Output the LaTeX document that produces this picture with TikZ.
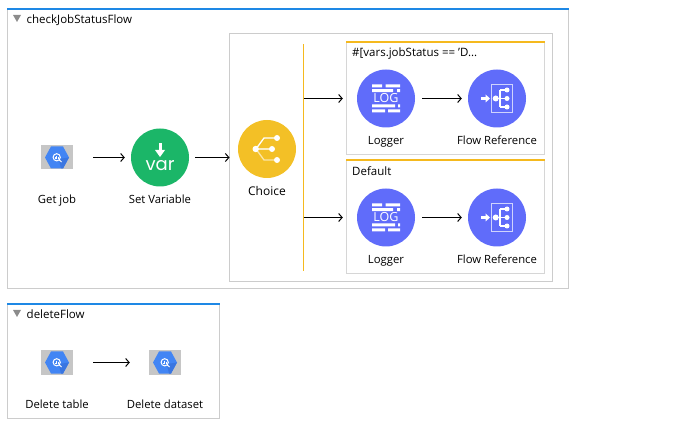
\documentclass[tikz,border=0pt]{standalone}
\usepackage{fontspec}
\setmainfont{Open Sans}
\newfontfamily\varfont{Poppins}
\usetikzlibrary{arrows.meta,positioning,calc}
\definecolor{muleblue}{RGB}{30,136,229}
\definecolor{muleframe}{RGB}{204,204,204}
\definecolor{mulegold}{RGB}{245,185,30}
\definecolor{choicegold}{RGB}{243,192,38}
\definecolor{vargreen}{RGB}{27,182,104}
\definecolor{logviolet}{RGB}{96,108,250}
\definecolor{bqblue}{RGB}{66,133,244}
\definecolor{bqdark}{RGB}{58,118,225}
\definecolor{bqgrey}{RGB}{198,198,198}
\tikzset{
  pics/bq/.style={code={
    \fill[bqgrey] (-16,-12) rectangle (16,12);
    \fill[bqblue] (-12,0) -- (-6,-11) -- (6,-11) -- (12,0) -- (6,11) -- (-6,11) -- cycle;
    \fill[bqdark] (2,3) -- (5,1) -- (12,0) -- (6,11) -- (4,11) -- cycle;
    \draw[white, line width=1pt] (-.3,-.2) circle (3.6);
    \draw[white, line width=1pt] (2.3,2.4) -- (4.6,4.6);
    \fill[white] (-1.7,0) rectangle (-1,1.6);
    \fill[white] (-.6,-1.8) rectangle (.2,1.6);
    \fill[white] (.6,-.6) rectangle (1.3,1.6);
  }},
  pics/varicon/.style={code={
    \fill[white] (-1.5,-14) rectangle (1.5,-6);
    \fill[white] (-5,-7) -- (5,-7) -- (0,0) -- cycle;
  }},
  pics/choiceicon/.style={code={
    \draw[white!70!choicegold, line width=1.3pt] (-11,0) -- (5,0);
    \draw[white!60!choicegold, line width=1.3pt] (-11,0) -- (-3,11) -- (10,11);
    \draw[white, line width=1.3pt] (-11,0) -- (-3,-11) -- (10,-11);
    \fill[white] (-11.3,0) circle (3.2) (5,0) circle (3) (10,-11) circle (3) (10,11) circle (3);
  }},
  pics/logicon/.style={code={
    \fill[white] (-14,-14) rectangle (-4,-11) (-.3,-14) rectangle (14,-11);
    \fill[white] (-14,-9.3) rectangle (7,-6.3) (11,-9.3) rectangle (14,-6.3);
    \fill[white] (-14,6) rectangle (9,9) (12,6) rectangle (14,9);
    \fill[white] (-14,11) rectangle (-1,14) (2,11) rectangle (14,14);
  }},
  pics/reficon/.style={code={
    \draw[white!70!logviolet, line width=.8pt] (-5.7,-14) rectangle (15,14);
    \fill[white] (-16,-1.8) rectangle (-11,1.8);
    \fill[white] (-11.5,-4) -- (-7,0) -- (-11.5,4) -- cycle;
    \draw[white, line width=1.1pt] (-1.3,0) -- (10,0) (3,-8.5) -- (3,8.5) (3,-8.5) -- (10,-8.5) (3,8.5) -- (10,8.5);
    \fill[white] (-1.3,0) circle (3) (10,0) circle (2.5) (10,-8.5) circle (2.5) (10,8.5) circle (2.5);
  }}
}
\begin{document}
\begin{tikzpicture}[x=1pt, y=-1pt, font=\fontsize{11.3}{13}\selectfont,
  flowbox/.style={draw=muleframe, line width=1pt},
  flowtop/.style={draw=muleblue, line width=2pt},
  routebox/.style={draw=muleframe!80!white, line width=1pt},
  routetop/.style={draw=mulegold, line width=2pt},
  act/.style={circle, minimum size=58pt, inner sep=0pt},
  bqnode/.style={minimum width=32pt, minimum height=24pt, inner sep=0pt},
  lbl/.style={inner sep=0pt, text=black, text height=12pt, text depth=3pt},
  head/.style={lbl, anchor=west, font=\fontsize{11.5}{13}\selectfont},
  logtxt/.style={lbl, text=white, text height=9pt, text depth=0pt, font=\fontsize{12.5}{14}\selectfont},
  flowarrow/.style={-{Straight Barb[length=3.5pt,width=8pt]}, line width=1pt, black}]
\useasboundingbox (0,0) rectangle (685,427);
% outer flows
\draw[flowbox] (7.5,9) rectangle (568.5,288.5);
\draw[flowtop] (7,9) -- (569,9);
\fill[gray!90] (13,15) -- (21,15) -- (17,22) -- cycle;
\node[head] (title1) at (26.5,19) {checkJobStatusFlow};
\draw[flowbox] (7.5,304) rectangle (219.5,418.5);
\draw[flowtop] (7,304) -- (220,304);
\fill[gray!90] (13,310) -- (21,310) -- (17,317) -- cycle;
\node[head] (title2) at (26.5,314) {deleteFlow};
% choice scope and routes
\draw[flowbox] (229.5,33.5) rectangle (552.5,281.5);
\draw[mulegold, line width=1pt] (303.5,44) -- (303.5,271);
\draw[routebox] (346.5,42) rectangle (544.5,154.5);
\draw[routetop] (346,42) -- (545,42);
\node[head] (route1) at (352,52) {\#[vars.jobStatus == 'D...};
\draw[routebox] (346.5,160.5) rectangle (544.5,273.5);
\draw[routetop] (346,160.5) -- (545,160.5);
\node[head] (route2) at (352,171) {Default};
% first flow
\node[bqnode] (getjob) at (57,157.5) {};
\pic at (getjob) {bq};
\node[act, fill=vargreen] (setvar) at (160,157.5) {};
\pic at (160,157) {varicon};
\node[lbl, font=\varfont\fontsize{18}{18}\selectfont, text=white] (vartxt) at (160,166.5) {var};
\node[act, fill=choicegold] (choice) at (267,149) {};
\pic at (choice) {choiceicon};
\node[lbl] at (57,199) {Get job};
\node[lbl] at (160,199) {Set Variable};
\node[lbl, font=\fontsize{12}{13}\selectfont] at (267,191) {Choice};
\coordinate (choicein) at (229.5,157.5);
\coordinate (bar1) at (303.5,98.5);
\coordinate (bar2) at (303.5,217.5);
% routes
\node[act, fill=logviolet] (log1) at (386,98.5) {};
\pic at (log1) {logicon};
\node[logtxt] (logtxt1) at (386,98.5) {LOG};
\node[act, fill=logviolet] (ref1) at (497,98.5) {};
\pic at (ref1) {reficon};
\node[lbl] at (386,140) {Logger};
\node[lbl] at (497,140) {Flow Reference};
\node[act, fill=logviolet] (log2) at (386,217.5) {};
\pic at (log2) {logicon};
\node[logtxt] (logtxt2) at (386,217.5) {LOG};
\node[act, fill=logviolet] (ref2) at (497,217.5) {};
\pic at (ref2) {reficon};
\node[lbl] at (386,259) {Logger};
\node[lbl] at (497,259) {Flow Reference};
% second flow
\node[bqnode] (deltable) at (57,362.5) {};
\pic at (deltable) {bq};
\node[bqnode] (deldata) at (165,362.5) {};
\pic at (deldata) {bq};
\node[lbl] at (57,404) {Delete table};
\node[lbl] at (165,404) {Delete dataset};
% connectors
\draw[flowarrow, shorten <=20pt, shorten >=6pt] (getjob) -- (setvar);
\draw[flowarrow, shorten <=6pt] (setvar) -- (choicein);
\draw[flowarrow, shorten >=14pt] (bar1) -- (log1);
\draw[flowarrow, shorten >=14pt] (bar2) -- (log2);
\draw[flowarrow, shorten <=7pt, shorten >=6pt] (log1) -- (ref1);
\draw[flowarrow, shorten <=7pt, shorten >=6pt] (log2) -- (ref2);
\draw[flowarrow, shorten <=20pt, shorten >=19pt] (deltable) -- (deldata);
\end{tikzpicture}
\end{document}
